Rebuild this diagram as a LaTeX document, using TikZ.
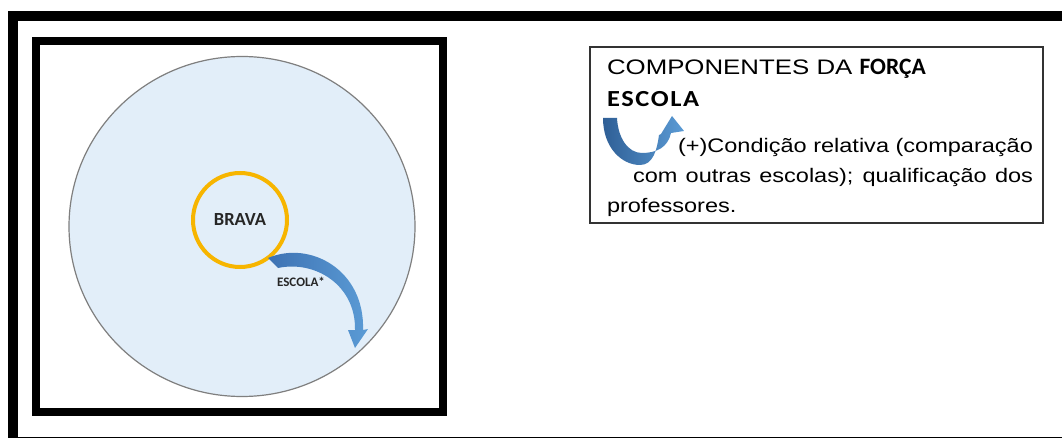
\documentclass[tikz,border=0pt]{standalone}
\usepackage{fontspec}
\setmainfont{Liberation Sans}
\newfontfamily\bodyfont[FakeStretch=1.2]{Liberation Sans}
\newfontfamily\titlefont[FakeStretch=1.23]{Liberation Sans}
\newfontfamily\calb{Carlito}
\newfontfamily\calbsp[FakeStretch=1.15,LetterSpace=7]{Carlito}
\usetikzlibrary{shapes.geometric}
\definecolor{fieldblue}{HTML}{E2EEF9}
\definecolor{fieldline}{HTML}{7F7F7F}
\definecolor{ringgold}{HTML}{F7B500}
\definecolor{arrowdark}{HTML}{3D72B3}
\definecolor{arrowlight}{HTML}{5B9BD5}
\definecolor{udark}{HTML}{2F5F96}
\definecolor{darktext}{HTML}{262626}
\definecolor{boxline}{HTML}{333333}
\tikzset{
  frameline/.style={line width=10pt, draw=black},
  innerframe/.style={line width=8.5pt, draw=black},
  textline/.style={anchor=base west, inner sep=0pt, outer sep=0pt, text=black},
}
\begin{document}
\begin{tikzpicture}[x=1pt,y=-1pt]
\useasboundingbox[fill=white] (0,0) rectangle (1062,438);
% outer frame (runs off the picture at right and bottom)
\draw[frameline] (1090,16) -- (12.5,16) -- (12.5,442) -- (1090,442);
% inner frame
\draw[innerframe] (36,41) rectangle (443,412);
% big field circle
\node[ellipse, draw=fieldline, line width=1.2pt, fill=fieldblue,
      minimum width=346pt, minimum height=340pt, inner sep=0pt] (field) at (242,226.5) {};
% BRAVA ring
\node[circle, draw=ringgold, line width=4pt, minimum size=94pt, inner sep=0pt,
      font=\calb\bfseries\fontsize{18.5}{18.5}\selectfont, text=darktext] (brava) at (240,220) {\raisebox{-2pt}{BRAVA}};
% curved block arrow
\shade[left color=arrowdark, right color=arrowlight]
  (268,258) .. controls (310,240) and (365,270) .. (363,330)
  -- (368,329) -- (355,348) -- (348,330) -- (355,330)
  .. controls (356,285) and (315,260) .. (278,268) -- cycle;
\node[font=\calb\bfseries\fontsize{13}{13}\selectfont, text=darktext, inner sep=0pt] (escola) at (301,282) {ESCOLA*};
% legend box
\draw[line width=1.5pt, draw=boxline] (590,47) rectangle (1043,223);
\node[textline, font=\titlefont\fontsize{21}{24}\selectfont] (t1) at (607,75)
  {COMPONENTES DA {\calb\bfseries\fontsize{23.5}{24}\selectfont FORÇA}};
\node[textline, font=\calbsp\bfseries\fontsize{23}{24}\selectfont] (t2) at (607,107) {ESCOLA};
% U-shaped arrow icon
\shade[left color=udark, right color=arrowlight]
  (603,118) .. controls (603,148) and (622,165) .. (640,165)
  .. controls (653,165) and (657,150) .. (659,135)
  -- (661,134) -- (672,116) -- (684,131) -- (671,133)
  .. controls (668,147) and (657,153) .. (642,153)
  .. controls (628,153) and (618,138) .. (617,118) -- cycle;
\node[textline, font=\bodyfont\fontsize{19.6}{24}\selectfont] (t3) at (678,153)
  {(+)Condição relativa (comparação};
\node[textline, font=\bodyfont\fontsize{19.6}{24}\selectfont] (t4) at (633,183)
  {\makebox[400pt][s]{com outras escolas); qualificação dos}};
\node[textline, font=\bodyfont\fontsize{19.6}{24}\selectfont] (t5) at (607,213)
  {professores.};
\end{tikzpicture}
\end{document}
